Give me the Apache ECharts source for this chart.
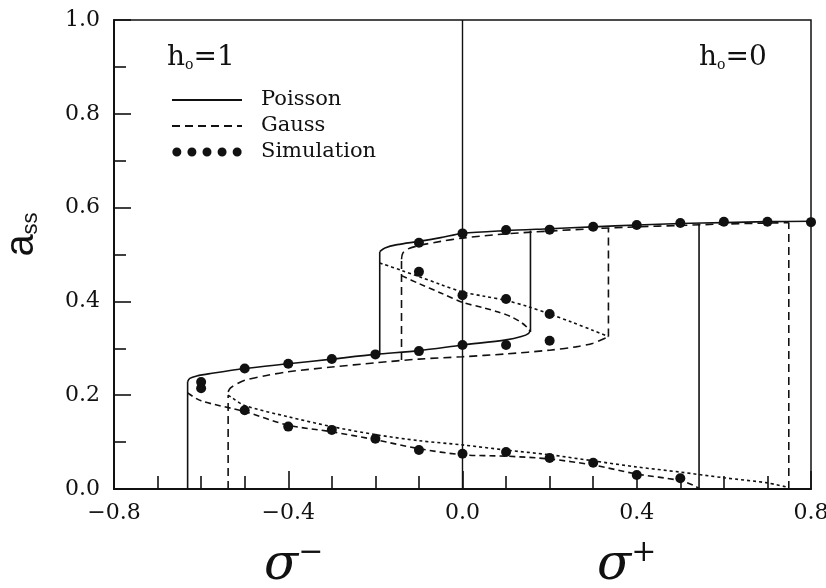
<!DOCTYPE html>
<html><head><meta charset="utf-8">
<script src="https://cdn.jsdelivr.net/npm/echarts@6/dist/echarts.min.js"></script>
<style>html,body{margin:0;padding:0;background:#fff}#c{width:826px;height:588px}</style>
</head><body><div id="c"></div>
<script>
// ---------- data ----------
const xTickLabels = [-0.8, -0.4, 0.0, 0.4, 0.8];
const yTickLabels = [0.0, 0.2, 0.4, 0.6, 0.8, 1.0];

// Poisson (solid)
const poissonVertLeft  = [[-0.631,0],[-0.631,0.229]];
const poissonMiddle    = [[-0.631,0.229],[-0.626,0.236],[-0.61,0.241],[-0.58,0.246],[-0.5,0.257],[-0.4,0.267],[-0.3,0.277],[-0.2,0.287],[-0.1,0.295],[0,0.307],[0.1,0.318],[0.135,0.325],[0.152,0.332],[0.156,0.34]];
const poissonVertMid   = [[0.156,0.335],[0.156,0.551]];
const poissonVertUpper = [[-0.19,0.287],[-0.19,0.506]];
const poissonUpper     = [[-0.19,0.506],[-0.178,0.514],[-0.15,0.521],[-0.1,0.528],[-0.05,0.536],[0,0.545],[0.1,0.551],[0.2,0.555],[0.3,0.559],[0.4,0.563],[0.5,0.566],[0.6,0.568],[0.7,0.570],[0.8,0.571]];
const poissonVertRight = [[0.543,0],[0.543,0.566]];

// Gauss (dashed)
const gaussVertLeft  = [[-0.538,0],[-0.538,0.2]];
const gaussMiddle    = [[-0.538,0.207],[-0.533,0.215],[-0.52,0.223],[-0.5,0.232],[-0.45,0.242],[-0.4,0.25],[-0.3,0.26],[-0.2,0.269],[-0.1,0.277],[0,0.282],[0.1,0.288],[0.2,0.296],[0.26,0.303],[0.3,0.311],[0.335,0.325]];
const gaussVertMid   = [[0.335,0.325],[0.335,0.556]];
const gaussVertUpper = [[-0.14,0.275],[-0.14,0.49]];
const gaussUpper     = [[-0.14,0.49],[-0.137,0.503],[-0.125,0.512],[-0.1,0.519],[-0.05,0.528],[0,0.535],[0.1,0.544],[0.2,0.55],[0.3,0.555],[0.4,0.559],[0.5,0.562],[0.6,0.565],[0.7,0.567],[0.749,0.568]];
const gaussVertRight = [[0.749,0],[0.749,0.568]];

// unstable branches
const fineUpper  = [[-0.19,0.482],[-0.14,0.466],[-0.1,0.453],[-0.05,0.436],[0,0.42],[0.05,0.411],[0.1,0.402],[0.15,0.389],[0.2,0.373],[0.25,0.356],[0.3,0.338],[0.335,0.325]];
const dashUpper  = [[-0.14,0.455],[-0.1,0.438],[-0.05,0.418],[0,0.398],[0.05,0.386],[0.08,0.378],[0.11,0.368],[0.135,0.355],[0.15,0.343],[0.156,0.335]];
const dashLower  = [[-0.631,0.205],[-0.6,0.188],[-0.5,0.165],[-0.4,0.136],[-0.3,0.122],[-0.2,0.105],[-0.1,0.086],[0,0.073],[0.1,0.07],[0.2,0.064],[0.3,0.051],[0.4,0.032],[0.5,0.018],[0.53,0.008],[0.543,0.001]];
const fineLower  = [[-0.538,0.2],[-0.53,0.195],[-0.5,0.178],[-0.4,0.154],[-0.3,0.133],[-0.2,0.116],[-0.1,0.103],[0,0.094],[0.1,0.083],[0.2,0.073],[0.3,0.06],[0.4,0.047],[0.5,0.036],[0.6,0.024],[0.7,0.013],[0.749,0.003]];

const divider = [[0,0],[0,1]];

// Simulation points
const simUpper    = [[-0.1,0.525],[0,0.545],[0.1,0.552],[0.2,0.553],[0.3,0.559],[0.4,0.563],[0.5,0.567],[0.6,0.570],[0.7,0.570],[0.8,0.569]];
const simUnstable = [[-0.1,0.463],[0,0.413],[0.1,0.405],[0.2,0.373]];
const simMiddle   = [[-0.6,0.228],[-0.6,0.215],[-0.5,0.257],[-0.4,0.267],[-0.3,0.277],[-0.2,0.287],[-0.1,0.294],[0,0.307],[0.1,0.307],[0.2,0.316]];
const simLower    = [[-0.5,0.168],[-0.4,0.133],[-0.3,0.126],[-0.2,0.107],[-0.1,0.083],[0,0.075],[0.1,0.079],[0.2,0.066],[0.3,0.056],[0.4,0.03],[0.5,0.023]];

// ---------- chart ----------
const INK = '#111';
const SERIF = 'DejaVu Serif';
function ln(name, data, dash, smooth, w) {
  return {type:'line', name:name, data:data, symbol:'none', showSymbol:false, smooth: smooth ? 0.3 : false,
    lineStyle:{color:INK, width: w || 1.6, type: dash}, itemStyle:{color:INK},
    silent:true, animation:false, z:3};
}
const GDASH = [8,5], MDASH = [6,4], FDASH = [3,3];

const series = [
  ln('div', divider, 'solid', false, 1.4),
  ln('Poisson', poissonVertLeft, 'solid', false),
  ln('Poisson', poissonMiddle, 'solid', true),
  ln('Poisson', poissonVertMid, 'solid', false),
  ln('Poisson', poissonVertUpper, 'solid', false),
  ln('Poisson', poissonUpper, 'solid', true),
  ln('Poisson', poissonVertRight, 'solid', false),
  ln('Gauss', gaussVertLeft, GDASH, false),
  ln('Gauss', gaussMiddle, GDASH, true),
  ln('Gauss', gaussVertMid, GDASH, false),
  ln('Gauss', gaussVertUpper, GDASH, false),
  ln('Gauss', gaussUpper, GDASH, true),
  ln('Gauss', gaussVertRight, GDASH, false),
  ln('u1', fineUpper, FDASH, true),
  ln('u2', dashUpper, MDASH, true),
  ln('u3', dashLower, MDASH, true),
  ln('u4', fineLower, FDASH, true),
  {type:'scatter', name:'Simulation', data: simUpper.concat(simUnstable, simMiddle, simLower),
   symbol:'circle', symbolSize:10, itemStyle:{color:INK, opacity:1}, silent:true, animation:false, z:5}
];

const dotsIcon = 'path://M0,5a5,5 0 1,0 10,0a5,5 0 1,0 -10,0Z M16.75,5a5,5 0 1,0 10,0a5,5 0 1,0 -10,0Z M33.5,5a5,5 0 1,0 10,0a5,5 0 1,0 -10,0Z M50.25,5a5,5 0 1,0 10,0a5,5 0 1,0 -10,0Z M67,5a5,5 0 1,0 10,0a5,5 0 1,0 -10,0Z';

function fmt(v) {
  const r = Math.round(v*10)/10;
  return (r < 0 ? '\u2212' : '') + Math.abs(r).toFixed(1);
}
const NOSYM = {color:'rgba(0,0,0,0)', borderColor:'rgba(0,0,0,0)', borderWidth:0};
function hRich() {
  return {h:{fontSize:28, fontFamily:SERIF, fontWeight:'normal', color:INK, lineHeight:32, verticalAlign:'bottom'},
          o:{fontSize:14, fontFamily:SERIF, fontWeight:'normal', color:INK, lineHeight:13, verticalAlign:'bottom'}};
}
function sRich() {
  return {s:{fontSize:50, fontFamily:SERIF, fontStyle:'italic', fontWeight:'normal', color:INK, lineHeight:56},
          p:{fontSize:30, fontFamily:SERIF, fontWeight:'normal', color:INK, lineHeight:30, verticalAlign:'top'}};
}

const chart = echarts.init(document.getElementById('c'), null, {renderer:'canvas'});
chart.setOption({
  animation:false,
  backgroundColor:'#fff',
  grid:{left:114, right:15, top:20, bottom:99, containLabel:false, outerBoundsMode:'none',
        show:true, borderColor:INK, borderWidth:1.5, backgroundColor:'transparent'},
  xAxis:{type:'value', min:xTickLabels[0], max:xTickLabels[xTickLabels.length-1], interval:0.4,
    axisLine:{lineStyle:{color:INK, width:2}},
    axisTick:{inside:true, length:18, lineStyle:{color:INK, width:1.6}},
    minorTick:{show:true, splitNumber:4, length:13, lineStyle:{color:INK, width:1.6}},
    splitLine:{show:false},
    axisLabel:{margin:13, color:INK, fontFamily:SERIF, fontSize:22, formatter:fmt}
  },
  yAxis:{type:'value', min:yTickLabels[0], max:yTickLabels[yTickLabels.length-1], interval:0.2,
    axisLine:{onZero:false, lineStyle:{color:INK, width:2}},
    axisTick:{inside:true, length:17, lineStyle:{color:INK, width:1.6}},
    minorTick:{show:true, splitNumber:2, length:12, lineStyle:{color:INK, width:1.6}},
    splitLine:{show:false},
    axisLabel:{margin:14, color:INK, fontFamily:SERIF, fontSize:22, formatter:fmt},
    name:'{a|a}{s|ss}', nameLocation:'middle', nameGap:72,
    nameTextStyle:{padding:[0,0,0,40], rich:{
      a:{fontSize:40, fontFamily:'Liberation Sans', color:INK, lineHeight:44, verticalAlign:'bottom'},
      s:{fontSize:22, fontFamily:'Liberation Sans', color:INK, lineHeight:24, verticalAlign:'bottom'}}}
  },
  legend:{left:171, top:89, orient:'vertical', padding:0, itemGap:4, itemWidth:70, itemHeight:9,
    selectedMode:false,
    textStyle:{fontFamily:SERIF, fontSize:21, color:INK, lineHeight:22, padding:[0,0,0,14]},
    data:[{name:'Poisson', itemStyle:NOSYM},{name:'Gauss', itemStyle:NOSYM},
          {name:'Simulation', icon:dotsIcon, itemStyle:{color:INK, opacity:1}}]
  },
  title:[
    {text:'{h|h}{o|o}{h|=1}', left:167, top:40, padding:0, textStyle:{fontWeight:'normal', rich:hRich()}},
    {text:'{h|h}{o|o}{h|=0}', left:699, top:40, padding:0, textStyle:{fontWeight:'normal', rich:hRich()}},
    {text:'{s|\u03c3}{p|\u2212}', left:264, top:538, padding:0, textStyle:{fontWeight:'normal', rich:sRich()}},
    {text:'{s|\u03c3}{p|+}', left:597, top:538, padding:0, textStyle:{fontWeight:'normal', rich:sRich()}}
  ],
  series: series
});
</script></body></html>
